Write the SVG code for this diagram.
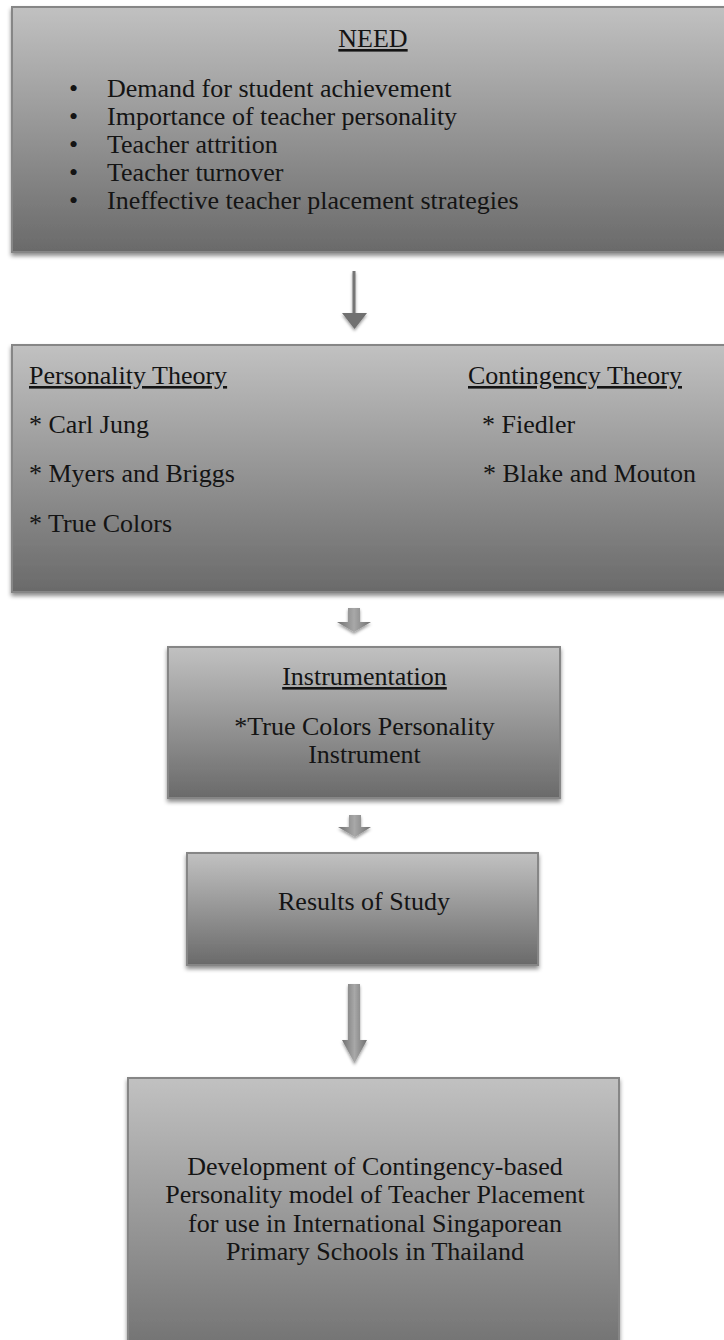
<svg xmlns="http://www.w3.org/2000/svg" width="724" height="1340" viewBox="0 0 724 1340">
<defs>
<style>
.box{fill:url(#boxg);stroke:#868686;stroke-width:2;filter:url(#sh)}
.t{font-family:"Liberation Serif","Times New Roman",serif;font-size:26px;fill:#141414}
.c{text-anchor:middle}
.u{text-decoration:underline}
.blk{fill:url(#arrg);filter:url(#ash)}
</style>
<linearGradient id="boxg" x1="0" y1="0" x2="0" y2="1">
<stop offset="0" stop-color="#c1c1c1"/>
<stop offset="1" stop-color="#6a6a6a"/>
</linearGradient>
<linearGradient id="arrg" x1="0" y1="0" x2="1" y2="0">
<stop offset="0" stop-color="#707070"/>
<stop offset="0.5" stop-color="#a8a8a8"/>
<stop offset="1" stop-color="#707070"/>
</linearGradient>
<filter id="sh" x="-5%" y="-5%" width="110%" height="115%">
<feDropShadow dx="0" dy="3" stdDeviation="2" flood-color="#000" flood-opacity="0.45"/>
</filter>
<filter id="ash" x="-50%" y="-50%" width="200%" height="200%">
<feDropShadow dx="0" dy="2" stdDeviation="1.5" flood-color="#000" flood-opacity="0.4"/>
</filter>
</defs>
<rect width="724" height="1340" fill="#ffffff"/>

<g id="connectors">
<g id="arrow1" filter="url(#ash)">
<line x1="354" y1="271" x2="354" y2="314" stroke="#757575" stroke-width="3"/>
<polygon points="342,313 367,313 354.5,329" fill="#6f6f6f"/>
</g>
<path id="arrow2" class="blk" d="M348,608 H360 V622 H371 L354,632 L337,622 H348 Z"/>
<path id="arrow3" class="blk" d="M349,815 H361 V827 H371 L355,837 L338,827 H349 Z"/>
<path id="arrow4" class="blk" d="M348,984 H360 V1040 H367 L354.5,1063 L342,1040 H348 Z"/>
</g>

<g id="need">
<rect class="box" x="12" y="7" width="730" height="245"/>
<text class="t c u" x="373" y="47">NEED</text>
<text class="t" x="69" y="97">•</text>
<text class="t" x="107" y="97">Demand for student achievement</text>
<text class="t" x="69" y="125">•</text>
<text class="t" x="107" y="125">Importance of teacher personality</text>
<text class="t" x="69" y="153">•</text>
<text class="t" x="107" y="153">Teacher attrition</text>
<text class="t" x="69" y="181">•</text>
<text class="t" x="107" y="181">Teacher turnover</text>
<text class="t" x="69" y="209">•</text>
<text class="t" x="107" y="209">Ineffective teacher placement strategies</text>
</g>

<g id="theory">
<rect class="box" x="12" y="345" width="730" height="247"/>
<text class="t u" x="29" y="384">Personality Theory</text>
<text class="t" x="29" y="433">* Carl Jung</text>
<text class="t" x="29" y="482">* Myers and Briggs</text>
<text class="t" x="29" y="532">* True Colors</text>
<text class="t u" x="468" y="384">Contingency Theory</text>
<text class="t" x="482" y="433">* Fiedler</text>
<text class="t" x="483" y="482">* Blake and Mouton</text>
</g>

<g id="instrumentation">
<rect class="box" x="168" y="647" width="392" height="151"/>
<text class="t c u" x="364.5" y="685">Instrumentation</text>
<text class="t c" x="364.5" y="735">*True Colors Personality</text>
<text class="t c" x="364.5" y="763">Instrument</text>
</g>

<g id="results">
<rect class="box" x="187" y="853" width="351" height="112"/>
<text class="t c" x="364" y="910">Results of Study</text>
</g>

<g id="development">
<rect class="box" x="128" y="1078" width="491" height="300"/>
<text class="t c" x="375" y="1175">Development of Contingency-based</text>
<text class="t c" x="375" y="1203">Personality model of Teacher Placement</text>
<text class="t c" x="375" y="1232">for use in International Singaporean</text>
<text class="t c" x="375" y="1260">Primary Schools in Thailand</text>
</g>
</svg>
